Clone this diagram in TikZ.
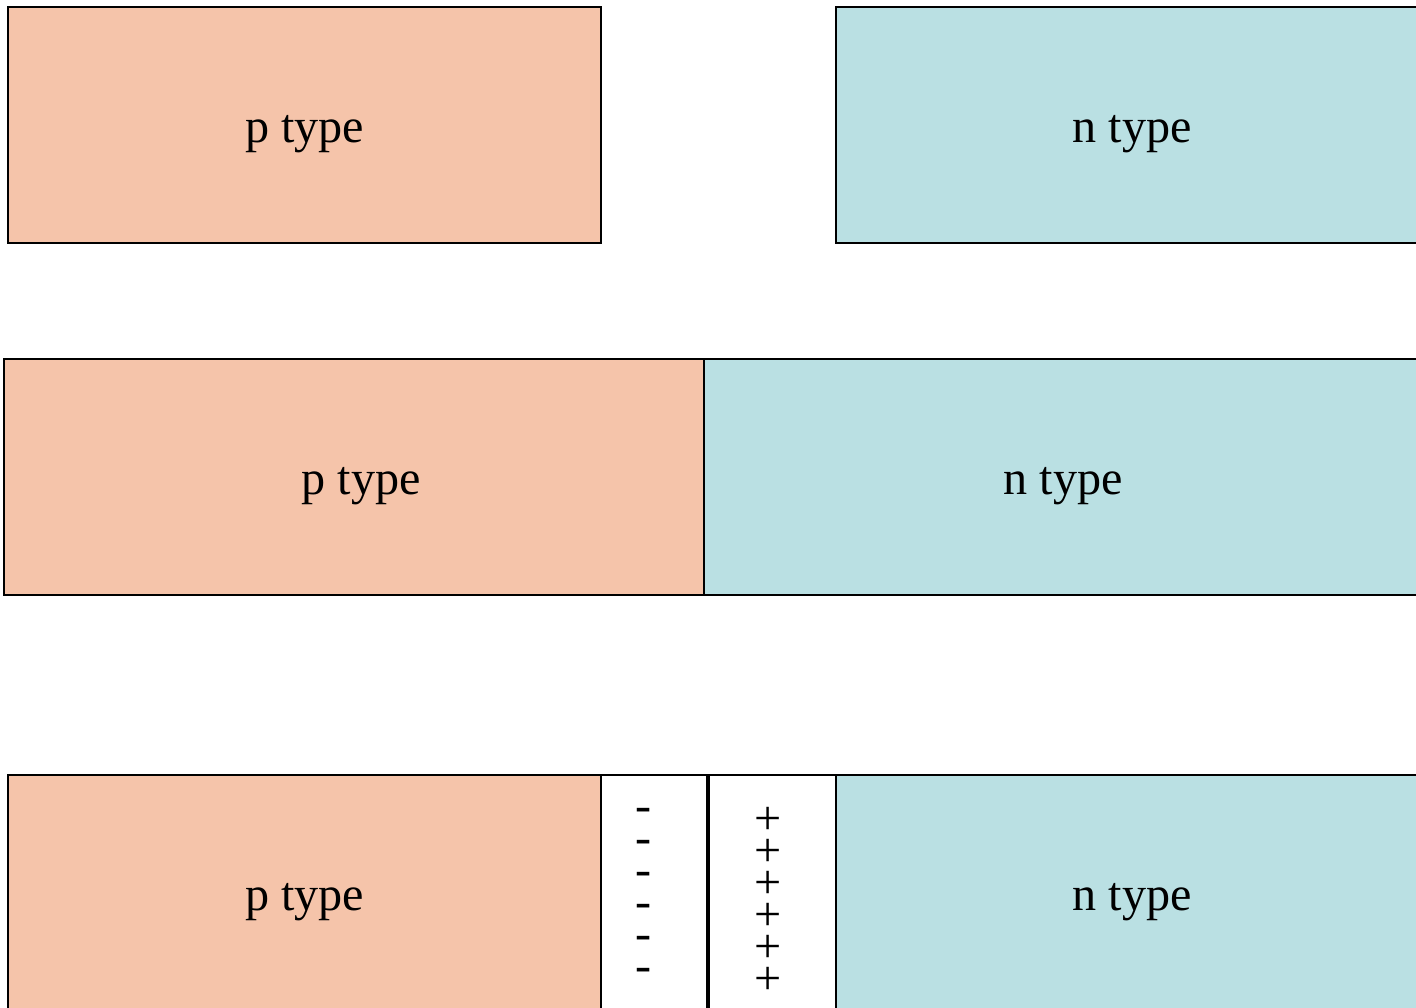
\documentclass[tikz,border=0pt]{standalone}
\usepackage{fontspec}
\setmainfont{Liberation Serif}
\definecolor{pcol}{RGB}{245,196,170}
\definecolor{ncol}{RGB}{186,224,227}
\tikzset{
  region/.style={draw, line width=0.6pt, anchor=north west, inner sep=0pt,
    minimum height=2.36cm, text height=1em, text depth=0pt,
    font=\fontsize{13.7}{16}\selectfont},
  pbox/.style={region, fill=pcol},
  nbox/.style={region, fill=ncol},
  wbox/.style={region, fill=white},
  charge/.style={inner sep=0pt, font=\fontsize{13.7}{16}\selectfont}
}
\begin{document}
\begin{tikzpicture}
  \useasboundingbox (0,0) rectangle (14.16,-10.08);
  \clip (0,0) rectangle (14.16,-10.08);

  % separate blocks
  \node[pbox, minimum width=5.93cm] (p1) at (0.07,-0.06) {p type};
  \node[nbox, minimum width=5.92cm] (n1) at (8.35,-0.06) {n type};

  % blocks in contact
  \node[pbox, minimum width=7.00cm] (p2) at (0.03,-3.58) {\hspace*{0.14cm}p type};
  \node[nbox, minimum width=7.18cm] (n2) at (7.03,-3.58) {n type};

  % depletion region
  \node[pbox, minimum width=5.93cm] (p3) at (0.07,-7.74) {p type};
  \node[wbox, minimum width=1.06cm] (neg) at (6.00,-7.74) {};
  \node[wbox, minimum width=1.28cm] (pos) at (7.075,-7.74) {};
  \node[nbox, minimum width=5.92cm] (n3) at (8.35,-7.74) {n type};

  % fixed charges
  \foreach \i in {0,...,5} {
    \node[charge] (minus\i) at (6.44,-8.15-0.32*\i) {-};
    \node[charge] (plus\i) at (7.68,-8.21-0.32*\i) {+};
  }
\end{tikzpicture}
\end{document}
